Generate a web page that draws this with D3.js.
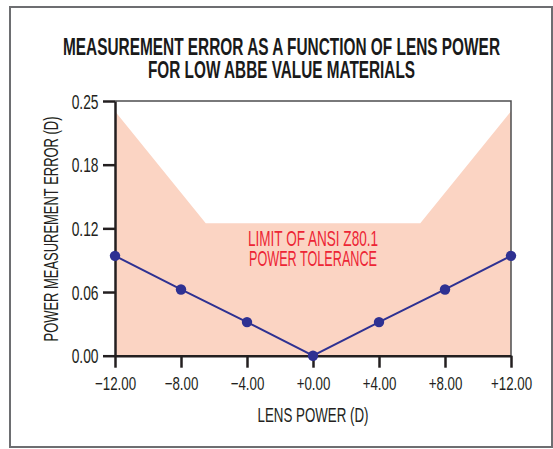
<!DOCTYPE html>
<html>
<head>
<meta charset="utf-8">
<script src="https://cdn.jsdelivr.net/npm/d3@7/dist/d3.min.js"></script>
<style>
  html, body { margin: 0; padding: 0; background: #fff; }
  svg { display: block; }
  text { font-family: "Liberation Sans", "DejaVu Sans", sans-serif; }
</style>
</head>
<body>
<svg id="chart" width="553" height="449"></svg>
<script>
// ---- data ----
const titleLines = ["MEASUREMENT ERROR AS A FUNCTION OF LENS POWER", "FOR LOW ABBE VALUE MATERIALS"];
const lensPower = [-12, -8, -4, 0, 4, 8, 12];
const measurementError = [0.098, 0.065, 0.033, 0.0, 0.033, 0.065, 0.098];
const tolerancePower = [-12, -6.5, 6.5, 12];
const toleranceLimit = [0.24, 0.13, 0.13, 0.24];
const xTickValues = [-12, -8, -4, 0, 4, 8, 12];
const xTickLabels = ["\u221212.00", "\u22128.00", "\u22124.00", "+0.00", "+4.00", "+8.00", "+12.00"];
const yTickValues = [0, 0.0625, 0.125, 0.1875, 0.25];
const yTickLabels = ["0.00", "0.06", "0.12", "0.18", "0.25"];
const toleranceLabel = ["LIMIT OF ANSI Z80.1", "POWER TOLERANCE"];
const xAxisTitle = "LENS POWER (D)";
const yAxisTitle = "POWER MEASUREMENT ERROR (D)";

// ---- layout ----
const svg = d3.select("#chart");
const plotLeft = 115, plotRight = 511, plotTop = 101, plotBottom = 355.7;

const x = d3.scaleLinear().domain([-12, 12]).range([plotLeft, plotRight]);
const y = d3.scaleLinear().domain([0, 0.25]).range([plotBottom, plotTop]);

function squeeze(sel, factor) {
  sel.each(function () {
    const w = this.getComputedTextLength();
    this.setAttribute("textLength", (w * factor).toFixed(2));
    this.setAttribute("lengthAdjust", "spacingAndGlyphs");
  });
}
function fitTo(sel, width) {
  sel.attr("textLength", width).attr("lengthAdjust", "spacingAndGlyphs");
}

// outer frame
svg.append("rect")
  .attr("x", 10).attr("y", 7).attr("width", 542).attr("height", 440)
  .attr("fill", "none").attr("stroke", "#6d6e71").attr("stroke-width", 2);

// title
const titleWidths = [437, 267];
titleLines.forEach((t, i) => {
  svg.append("text")
    .attr("x", 281.5).attr("y", 54.5 + i * 23.5)
    .attr("text-anchor", "middle")
    .attr("font-weight", "bold")
    .attr("font-size", 24.5)
    .attr("fill", "#1a1a1a")
    .text(t)
    .call(fitTo, titleWidths[i]);
});

// tolerance area
const tol = tolerancePower.map((p, i) => [p, toleranceLimit[i]]);
svg.append("path")
  .datum(tol)
  .attr("fill", "#fbd4c3")
  .attr("d", d3.area().x(d => x(d[0])).y0(y(0)).y1(d => y(d[1])));

// plot frame top/right
svg.append("path")
  .attr("d", `M${x(-12)},${y(0.25)}H${x(12)}V${y(0)}`)
  .attr("fill", "none").attr("stroke", "#4d4d4f").attr("stroke-width", 1.5);

// tolerance label
const tolWidths = [130, 128];
toleranceLabel.forEach((t, i) => {
  svg.append("text")
    .attr("x", 313).attr("y", 245.7 + i * 20.5)
    .attr("text-anchor", "middle")
    .attr("font-size", 22)
    .attr("fill", "#ed2535")
    .text(t)
    .call(fitTo, tolWidths[i]);
});

// axes
const xAxis = svg.append("g")
  .attr("transform", `translate(0,${y(0)})`)
  .call(d3.axisBottom(x).tickValues(xTickValues)
    .tickFormat((d, i) => xTickLabels[i]).tickSize(12).tickPadding(8).tickSizeOuter(0));
const yAxis = svg.append("g")
  .attr("transform", `translate(${x(-12)},0)`)
  .call(d3.axisLeft(y).tickValues(yTickValues)
    .tickFormat((d, i) => yTickLabels[i]).tickSize(12).tickPadding(4.5).tickSizeOuter(0));

[xAxis, yAxis].forEach(g => {
  g.select(".domain").attr("stroke", "#231f20").attr("stroke-width", 2.5);
  g.selectAll(".tick line").attr("stroke", "#231f20").attr("stroke-width", 2.5);
  g.selectAll(".tick text").attr("fill", "#231f20").attr("font-family", "Liberation Sans, sans-serif");
});
xAxis.selectAll(".tick text").attr("font-size", 19).attr("dy", null).attr("y", 34.3);
squeeze(xAxis.selectAll(".tick text"), 0.7);
yAxis.selectAll(".tick text").attr("font-size", 20).attr("dy", "0.36em");
squeeze(yAxis.selectAll(".tick text"), 0.69);

// axis titles
svg.append("text")
  .attr("x", 313).attr("y", 421.5)
  .attr("text-anchor", "middle")
  .attr("font-size", 21)
  .attr("fill", "#231f20")
  .text(xAxisTitle)
  .call(fitTo, 111);

svg.append("text")
  .attr("transform", `translate(58.3,229) rotate(-90)`)
  .attr("text-anchor", "middle")
  .attr("font-size", 21)
  .attr("fill", "#231f20")
  .text(yAxisTitle)
  .call(fitTo, 225);

// series line and points
const pts = lensPower.map((p, i) => [p, measurementError[i]]);
svg.append("path")
  .datum(pts)
  .attr("fill", "none")
  .attr("stroke", "#2e3192")
  .attr("stroke-width", 2)
  .attr("d", d3.line().x(d => x(d[0])).y(d => y(d[1])));
svg.append("g").selectAll("circle")
  .data(pts).join("circle")
  .attr("cx", d => x(d[0])).attr("cy", d => y(d[1]))
  .attr("r", 5.2).attr("fill", "#2e3192");
</script>
</body>
</html>
